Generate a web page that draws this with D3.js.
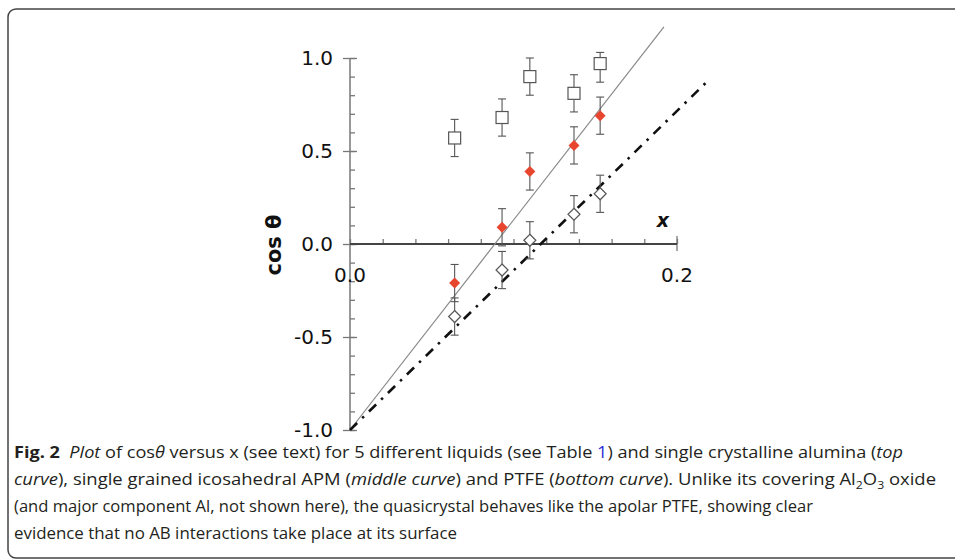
<!DOCTYPE html>
<html>
<head>
  <meta charset="utf-8">
  <script src="https://d3js.org/d3.v7.min.js"></script>
  <style>
    body { margin: 0; background: white; }
    .tick text { font-family: "DejaVu Sans", sans-serif; font-size: 20px; fill: #111; }
    .caption { font-family: "Open Sans", sans-serif; font-size: 16.5px; fill: #231f20; }
  </style>
</head>
<body>
<script>
    // data
    var xVals = [0.064, 0.093, 0.110, 0.137, 0.153];
    var aluminaY = [0.57, 0.68, 0.90, 0.81, 0.97];   // top curve, open squares
    var apmY = [-0.21, 0.09, 0.39, 0.53, 0.69];      // middle curve, red diamonds
    var ptfeY = [-0.39, -0.14, 0.02, 0.16, 0.27];    // bottom curve, open diamonds
    var aluminaErrUp = [0.10, 0.10, 0.10, 0.10, 0.06];
    var aluminaErrDown = [0.10, 0.10, 0.10, 0.10, 0.10];
    var apmErr = [0.10, 0.10, 0.10, 0.10, 0.10];
    var ptfeErr = [0.10, 0.10, 0.10, 0.10, 0.10];
    var solidFit = [[0, -1], [0.192, 1.167]];
    var dashFit = [[0, -1], [0.219, 0.878]];
    var yTickValues = [-1, -0.5, 0, 0.5, 1];
    var xTickValues = [0, 0.2];

    var svg = d3.select("body").append("svg")
        .attr("width", 955)
        .attr("height", 559);

    // frame around the figure
    svg.append("rect")
        .attr("x", 8).attr("y", 9)
        .attr("width", 1000).attr("height", 549)
        .attr("rx", 8)
        .attr("fill", "none")
        .attr("stroke", "#444")
        .attr("stroke-width", 1.5);

    var x = d3.scaleLinear().domain([0, 0.2]).range([350, 677]);
    var y = d3.scaleLinear().domain([-1, 1]).range([430, 58]);

    // y axis: minor ticks on the right, major ticks on both sides
    var yMinor = svg.append("g")
        .attr("transform", "translate(" + x(0) + ",0)")
        .call(d3.axisRight(y).ticks(20).tickSize(5).tickFormat(""));
    var yMajorR = svg.append("g")
        .attr("transform", "translate(" + x(0) + ",0)")
        .call(d3.axisRight(y).tickValues(yTickValues).tickSize(7).tickFormat(""));
    var yMajorL = svg.append("g")
        .attr("transform", "translate(" + x(0) + ",0)")
        .call(d3.axisLeft(y).tickValues(yTickValues).tickSize(7).tickPadding(10)
            .tickFormat(function(d){ return d.toFixed(1); }));
    [yMinor, yMajorR, yMajorL].forEach(function(g){
        g.select(".domain").remove();
        g.selectAll(".tick line").attr("stroke", "#777").attr("stroke-width", 1.3);
    });

    svg.append("line")
        .attr("x1", x(0)).attr("x2", x(0))
        .attr("y1", y(1)).attr("y2", y(-1))
        .attr("stroke", "#777").attr("stroke-width", 1.5);

    // x axis: minor ticks pointing up
    var xMinor = svg.append("g")
        .attr("transform", "translate(0," + y(0) + ")")
        .call(d3.axisTop(x).ticks(10).tickSize(5).tickFormat(""));
    xMinor.select(".domain").remove();
    xMinor.selectAll(".tick line").attr("stroke", "#777").attr("stroke-width", 1.3);

    svg.append("line")
        .attr("x1", x(0.2)).attr("x2", x(0.2))
        .attr("y1", y(0) - 8).attr("y2", y(0) + 7)
        .attr("stroke", "#777").attr("stroke-width", 1.3);

    svg.append("line")
        .attr("x1", x(0)).attr("x2", x(0.2))
        .attr("y1", y(0)).attr("y2", y(0))
        .attr("stroke", "#444").attr("stroke-width", 1.8);

    svg.append("g").selectAll("text")
        .data(xTickValues)
        .enter()
        .append("text")
        .attr("x", function(d){ return x(d); })
        .attr("y", y(0) + 38)
        .attr("text-anchor", "middle")
        .style("font-family", "DejaVu Sans, sans-serif")
        .style("font-size", "20px")
        .attr("fill", "#111")
        .text(function(d){ return d.toFixed(1); });

    // axis titles
    svg.append("text")
        .attr("x", 663).attr("y", 227)
        .attr("text-anchor", "middle")
        .style("font-family", "DejaVu Sans, sans-serif")
        .style("font-size", "19px")
        .style("font-weight", "bold")
        .style("font-style", "italic")
        .attr("fill", "#111")
        .text("x");

    svg.append("text")
        .attr("transform", "translate(281,245) rotate(-90)")
        .attr("text-anchor", "middle")
        .style("font-family", "DejaVu Sans, sans-serif")
        .style("font-size", "21px")
        .style("font-weight", "600")
        .attr("fill", "#111")
        .text("cos θ");

    // fitted lines
    var line = d3.line()
        .x(function(d){ return x(d[0]); })
        .y(function(d){ return y(d[1]); });

    svg.append("path")
        .attr("d", line(solidFit))
        .attr("fill", "none")
        .attr("stroke", "#888")
        .attr("stroke-width", 1.2);

    svg.append("path")
        .attr("d", line(dashFit))
        .attr("fill", "none")
        .attr("stroke", "#111")
        .attr("stroke-width", 2.6)
        .attr("stroke-dasharray", "10,7,2.5,7");

    // error bars
    function errorBars(vals, up, down) {
        var g = svg.append("g")
            .attr("stroke", "#555")
            .attr("stroke-width", 1.1);
        vals.forEach(function(v, i){
            var cx = x(xVals[i]);
            var top = y(v + up[i]), bot = y(v - down[i]);
            g.append("line").attr("x1", cx).attr("x2", cx).attr("y1", top).attr("y2", bot);
            g.append("line").attr("x1", cx - 4).attr("x2", cx + 4).attr("y1", top).attr("y2", top);
            g.append("line").attr("x1", cx - 4).attr("x2", cx + 4).attr("y1", bot).attr("y2", bot);
        });
    }
    errorBars(aluminaY, aluminaErrUp, aluminaErrDown);
    errorBars(apmY, apmErr, apmErr);
    errorBars(ptfeY, ptfeErr, ptfeErr);

    // markers
    svg.append("g").selectAll("rect")
        .data(aluminaY)
        .enter()
        .append("rect")
        .attr("x", function(d,i){ return x(xVals[i]) - 6; })
        .attr("y", function(d){ return y(d) - 6; })
        .attr("width", 12).attr("height", 12)
        .attr("fill", "white")
        .attr("stroke", "#555")
        .attr("stroke-width", 1.2);

    function diamond(r) {
        return "M0," + (-r) + "L" + r + ",0L0," + r + "L" + (-r) + ",0Z";
    }

    svg.append("g").selectAll("path")
        .data(ptfeY)
        .enter()
        .append("path")
        .attr("transform", function(d,i){ return "translate(" + x(xVals[i]) + "," + y(d) + ")"; })
        .attr("d", diamond(6))
        .attr("fill", "white")
        .attr("stroke", "#555")
        .attr("stroke-width", 1.2);

    svg.append("g").selectAll("path")
        .data(apmY)
        .enter()
        .append("path")
        .attr("transform", function(d,i){ return "translate(" + x(xVals[i]) + "," + y(d) + ")"; })
        .attr("d", diamond(5.5))
        .attr("fill", "#e8452f");

    // caption
    var caption = svg.append("g").attr("class", "caption");

    var l1 = caption.append("text").attr("x", 14).attr("y", 458)
        .attr("textLength", 889).attr("lengthAdjust", "spacingAndGlyphs");
    l1.append("tspan").style("font-weight", "bold").text("Fig. 2");
    l1.append("tspan").text("\u00a0\u00a0");
    l1.append("tspan").style("font-style", "italic").text("Plot");
    l1.append("tspan").text(" of cos");
    l1.append("tspan").style("font-style", "italic").text("θ");
    l1.append("tspan").text(" versus x (see text) for 5 different liquids (see Table ");
    l1.append("tspan").attr("fill", "#2b2bd6").text("1");
    l1.append("tspan").text(") and single crystalline alumina (");
    l1.append("tspan").style("font-style", "italic").text("top");

    var l2 = caption.append("text").attr("x", 14).attr("y", 485)
        .attr("textLength", 922).attr("lengthAdjust", "spacingAndGlyphs");
    l2.append("tspan").style("font-style", "italic").text("curve");
    l2.append("tspan").text("), single grained icosahedral APM (");
    l2.append("tspan").style("font-style", "italic").text("middle curve");
    l2.append("tspan").text(") and PTFE (");
    l2.append("tspan").style("font-style", "italic").text("bottom curve");
    l2.append("tspan").text("). Unlike its covering Al");
    l2.append("tspan").attr("dy", 4).style("font-size", "11px").text("2");
    l2.append("tspan").attr("dy", -4).text("O");
    l2.append("tspan").attr("dy", 4).style("font-size", "11px").text("3");
    l2.append("tspan").attr("dy", -4).text(" oxide");

    caption.append("text").attr("x", 14).attr("y", 512)
        .attr("textLength", 799).attr("lengthAdjust", "spacingAndGlyphs")
        .text("(and major component Al, not shown here), the quasicrystal behaves like the apolar PTFE, showing clear");

    caption.append("text").attr("x", 14).attr("y", 539)
        .attr("textLength", 443).attr("lengthAdjust", "spacingAndGlyphs")
        .text("evidence that no AB interactions take place at its surface");
</script>
</body>
</html>
